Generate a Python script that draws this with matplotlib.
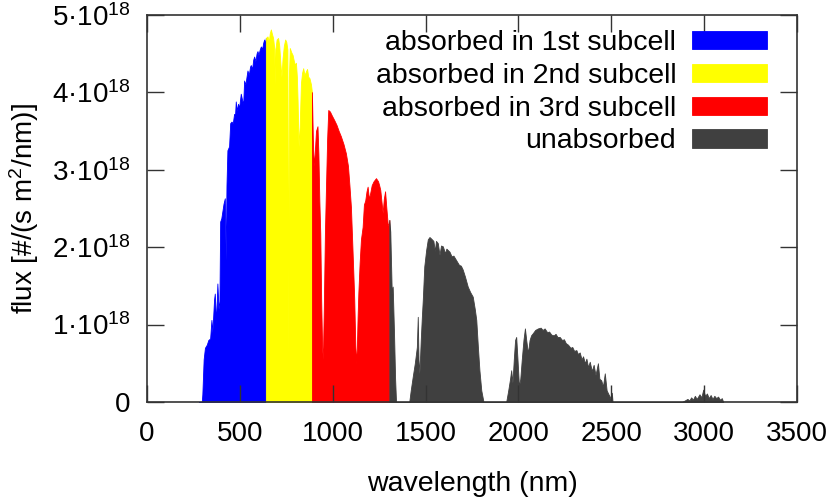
import numpy as np
import matplotlib
matplotlib.use("Agg")
import matplotlib.pyplot as plt

plt.rcParams['font.family'] = ['Liberation Sans', 'DejaVu Sans']
plt.rcParams['mathtext.fontset'] = 'custom'
plt.rcParams['mathtext.rm'] = 'Liberation Sans'
plt.rcParams['mathtext.it'] = 'Liberation Sans:italic'
plt.rcParams['mathtext.bf'] = 'Liberation Sans:bold'

# ---- data (flux in units of 1e18 photons/(s m^2 nm)) ----
wavelength = [
    280, 295, 298, 305, 312, 322, 330, 340, 347, 352, 361, 365, 372, 379, 385, 390, 394, 400,
    412, 419, 424, 428, 433, 442, 448, 455, 462, 469, 474, 478, 483, 490, 496, 505, 512, 518,
    523, 530, 536, 541, 548, 555, 559, 566, 572, 577, 584, 590, 595, 600, 607, 613, 620, 626,
    631, 636, 640, 649, 656, 661, 667, 672, 679, 685, 688, 691, 698, 706, 712, 719, 724, 730,
    737, 744, 750, 756, 760, 764, 769, 776, 784, 791, 797, 802, 807, 811, 816, 822, 829, 835,
    841, 848, 856, 862, 868, 875, 883, 888, 893, 898, 903, 910, 918, 923, 928, 933, 938, 943,
    947, 952, 958, 964, 970, 976, 985, 995, 1008, 1020, 1032, 1044, 1058, 1071, 1082, 1090,
    1098, 1106, 1112, 1116, 1121, 1125, 1130, 1134, 1138, 1145, 1152, 1161, 1168, 1175, 1182,
    1188, 1195, 1202, 1210, 1220, 1233, 1244, 1250, 1256, 1262, 1269, 1275, 1282, 1289, 1296,
    1300, 1305, 1310, 1318, 1323, 1330, 1336, 1341, 1412, 1420, 1431, 1442, 1453, 1458, 1462,
    1467, 1474, 1480, 1485, 1493, 1503, 1512, 1521, 1530, 1542, 1550, 1556, 1566, 1575, 1583,
    1593, 1605, 1612, 1629, 1640, 1650, 1665, 1680, 1690, 1700, 1712, 1727, 1740, 1754, 1765,
    1773, 1782, 1790, 1800, 1812, 1934, 1945, 1955, 1961, 1968, 1975, 1982, 1988, 1995, 2003,
    2010, 2018, 2027, 2035, 2042, 2051, 2060, 2068, 2078, 2090, 2105, 2120, 2130, 2141, 2155,
    2165, 2177, 2190, 2200, 2210, 2222, 2235, 2245, 2255, 2267, 2280, 2290, 2300, 2312, 2320,
    2330, 2340, 2348, 2358, 2366, 2375, 2384, 2395, 2405, 2415, 2428, 2436, 2446, 2455, 2465,
    2475, 2485, 2492, 2500, 2503, 2507, 2880, 2896, 2910, 2920, 2930, 2940, 2950, 2960, 2975,
    2985, 2995, 3005, 3015, 3025, 3035, 3045, 3055, 3065, 3075, 3085, 3095, 3103,
]
flux = [
    0.0, 0.0, 0.10, 0.55, 0.70, 0.74, 0.80, 0.82, 1.06, 0.90, 1.32, 1.40, 1.02, 1.53, 1.20, 1.30, 2.33, 2.37,
    2.56, 2.63, 1.83, 2.80, 3.25, 3.30, 3.60, 3.62, 3.60, 3.72, 3.70, 3.88, 3.76, 3.85, 3.80, 3.98, 3.90, 3.85,
    4.15, 4.10, 4.20, 4.28, 4.22, 4.33, 4.35, 4.30, 4.42, 4.46, 4.40, 4.50, 4.53, 4.48, 4.55, 4.59, 4.56, 4.64,
    4.68, 4.62, 4.70, 4.72, 4.65, 4.76, 4.81, 4.76, 4.70, 4.57, 4.10, 4.55, 4.68, 4.70, 4.60, 4.35, 4.20, 4.44,
    4.60, 4.68, 4.65, 4.55, 0.60, 4.20, 4.57, 4.52, 4.48, 4.40, 4.35, 4.38, 4.20, 3.88, 3.30, 3.55, 4.12, 4.25,
    4.31, 4.22, 4.27, 4.30, 4.20, 4.18, 4.10, 4.00, 3.40, 3.05, 3.20, 3.50, 3.56, 3.20, 2.60, 2.18, 1.30, 0.70,
    0.55, 1.20, 2.18, 2.80, 3.40, 3.77, 3.75, 3.70, 3.64, 3.58, 3.50, 3.43, 3.33, 3.21, 3.05, 2.80,
    2.52, 2.00, 1.60, 1.32, 0.80, 0.50, 0.70, 1.10, 1.41, 1.80, 2.10, 2.26, 2.55, 2.60, 2.72,
    2.78, 2.62, 2.70, 2.80, 2.85, 2.89, 2.85, 2.80, 2.74, 2.60, 2.44, 2.62, 2.72, 2.50, 2.30,
    2.28, 2.35, 2.20, 1.40, 1.49, 0.90, 0.30, 0.0, 0.0, 0.15, 0.33, 0.50, 0.71, 1.10, 0.55,
    0.37, 0.80, 1.10, 1.32, 1.75, 1.96, 2.10, 2.13, 2.11, 2.08, 1.95, 2.08, 2.05, 1.90, 2.02,
    2.01, 1.92, 1.98, 1.94, 1.88, 1.89, 1.83, 1.77, 1.76, 1.71, 1.62, 1.49, 1.42, 1.36, 1.20,
    1.06, 0.70, 0.41, 0.15, 0.0, 0.0, 0.15, 0.30, 0.41, 0.25, 0.55, 0.80, 0.84, 0.55, 0.20,
    0.30, 0.55, 0.80, 0.95, 0.80, 0.63, 0.80, 0.86, 0.89, 0.93, 0.95, 0.96, 0.93, 0.95, 0.90,
    0.91, 0.87, 0.86, 0.88, 0.84, 0.84, 0.80, 0.81, 0.76, 0.74, 0.70, 0.71, 0.66, 0.67, 0.62,
    0.64, 0.55, 0.59, 0.50, 0.56, 0.45, 0.52, 0.40, 0.48, 0.35, 0.50, 0.30, 0.28, 0.20, 0.37,
    0.15, 0.10, 0.07, 0.02, 0.12, 0.0, 0.0, 0.02, 0.04, 0.02, 0.06, 0.03, 0.08, 0.04, 0.10,
    0.06, 0.16, 0.08, 0.11, 0.05, 0.09, 0.04, 0.08, 0.05, 0.07, 0.03, 0.05, 0.0,
]
# subcell absorption edges (nm)
edges = [640, 888, 1305]
labels = ["absorbed in 1st subcell", "absorbed in 2nd subcell",
          "absorbed in 3rd subcell", "unabsorbed"]
colors = ["#0000ff", "#ffff00", "#ff0000", "#404040"]
yticks = [0, 1, 2, 3, 4, 5]
xticks = [0, 500, 1000, 1500, 2000, 2500, 3000, 3500]

wl = np.array(wavelength, float)
fx = np.array(flux, float) * 1e18

fig = plt.figure(figsize=(8.35, 5.01), dpi=100)
ax = fig.add_axes([147/835, 1-402/501, 650/835, (402-14.7)/501])

bounds = [wl[0]] + edges + [wl[-1]]
for i in range(4):
    lo, hi = bounds[i], bounds[i+1]
    m = (wl > lo) & (wl < hi)
    xs = np.concatenate([[lo], wl[m], [hi]])
    ys = np.concatenate([[np.interp(lo, wl, fx)], fx[m], [np.interp(hi, wl, fx)]])
    ax.fill_between(xs, 0, ys, color=colors[i], lw=0.6, edgecolor=colors[i], label=labels[i])

ax.set_xlim(0, 3500)
ax.set_ylim(0, 5e18)
ax.set_xticks(xticks)
ax.set_xticklabels([str(t) for t in xticks])
ax.set_yticks([t*1e18 for t in yticks])
ax.set_yticklabels(['0' if t == 0 else r'$\mathregular{%d·10^{18}}$' % t for t in yticks])
ax.tick_params(direction='in', length=12, width=1.0, labelsize=20,
               top=True, right=True, color='#333333')
ax.tick_params(axis='x', pad=14)
ax.tick_params(axis='y', pad=12)
for s in ax.spines.values():
    s.set_color('#333333')
    s.set_linewidth(1.2)

ax.set_xlabel('wavelength (nm)', fontsize=20.5, labelpad=17)
ax.set_ylabel(r'flux [#/(s m$^2$/nm)]', fontsize=20, labelpad=8)

leg = ax.legend(loc='upper right', bbox_to_anchor=((767.3-147)/650, 1-(30-14.7)/387.3),
                frameon=False, markerfirst=False, fontsize=20.5, borderpad=0,
                borderaxespad=0, handlelength=2.65, handleheight=0.6,
                labelspacing=0.24, handletextpad=0.55)

fig.savefig('out.png', dpi=100)
